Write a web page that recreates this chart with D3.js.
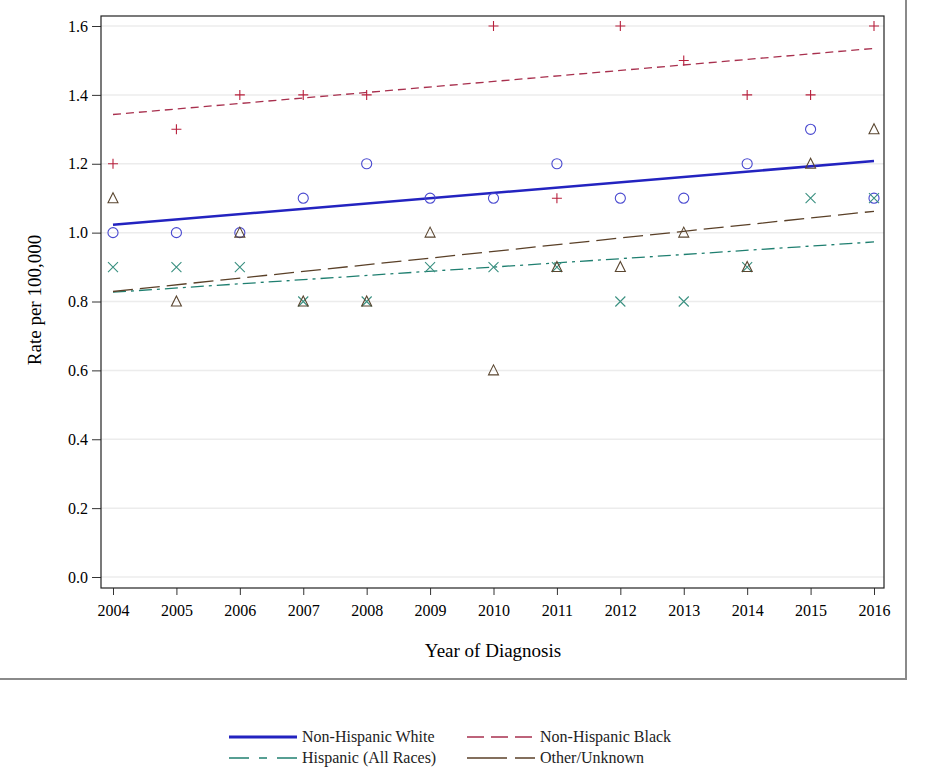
<!DOCTYPE html>
<html>
<head>
<meta charset="utf-8">
<script src="https://cdn.jsdelivr.net/npm/d3@7"></script>
<style>
  body { margin: 0; background: #fff; }
  svg text { font-family: "Liberation Serif", "DejaVu Serif", serif !important; }
</style>
</head>
<body>
<div id="chart"></div>
<script>
const years = [2004, 2005, 2006, 2007, 2008, 2009, 2010, 2011, 2012, 2013, 2014, 2015, 2016];
const yTicks = [0.0, 0.2, 0.4, 0.6, 0.8, 1.0, 1.2, 1.4, 1.6];

// observed rates (null = not shown)
const white    = [1.0, 1.0, 1.0, 1.1, 1.2, 1.1, 1.1, 1.2, 1.1, 1.1, 1.2, 1.3, 1.1];
const black    = [1.2, 1.3, 1.4, 1.4, 1.4, null, 1.6, 1.1, 1.6, 1.5, 1.4, 1.4, 1.6];
const hispanic = [0.9, 0.9, 0.9, 0.8, 0.8, 0.9, 0.9, 0.9, 0.8, 0.8, 0.9, 1.1, 1.1];
const other    = [1.1, 0.8, 1.0, 0.8, 0.8, 1.0, 0.6, 0.9, 0.9, 1.0, 0.9, 1.2, 1.3];

// fitted trend lines, value at 2004 and at 2016
const whiteTrend    = [1.023, 1.208];
const blackTrend    = [1.343, 1.535];
const hispanicTrend = [0.827, 0.973];
const otherTrend    = [0.829, 1.062];

const width = 925, height = 771;
const plot = {left: 101, right: 884, top: 16, bottom: 588};

const svg = d3.select("#chart").append("svg")
  .attr("width", width)
  .attr("height", height);

const x = d3.scaleLinear().domain([2004, 2016]).range([113, 874]);
const y = d3.scaleLinear().domain([0, 1.6]).range([577, 26]);

// outer border (right and bottom only)
svg.append("line")
  .attr("x1", 906).attr("x2", 906).attr("y1", 0).attr("y2", 679)
  .attr("stroke", "#8a8a8a").attr("stroke-width", 2);
svg.append("line")
  .attr("x1", 0).attr("x2", 907).attr("y1", 679).attr("y2", 679)
  .attr("stroke", "#8a8a8a").attr("stroke-width", 2);

// grid lines
svg.append("g")
  .selectAll("line")
  .data(yTicks)
  .join("line")
  .attr("x1", plot.left).attr("x2", plot.right)
  .attr("y1", d => y(d)).attr("y2", d => y(d))
  .attr("stroke", "#ececec")
  .attr("stroke-width", 1.5);

// axes
const yAxis = d3.axisLeft(y).tickValues(yTicks).tickFormat(d3.format(".1f")).tickSize(9).tickPadding(4);
const xAxis = d3.axisBottom(x).tickValues(years).tickFormat(d3.format("d")).tickSize(7).tickPadding(10);

const gy = svg.append("g")
  .attr("transform", `translate(${plot.left},0)`)
  .call(yAxis);
const gx = svg.append("g")
  .attr("transform", `translate(0,${plot.bottom})`)
  .call(xAxis);

[gx, gy].forEach(g => {
  g.attr("font-family", null).attr("font-size", null);
  g.select(".domain").remove();
  g.selectAll(".tick line").attr("stroke", "#333");
  g.selectAll(".tick text")
    .attr("fill", "#000")
    .attr("font-size", 16);
});

// frame
svg.append("rect")
  .attr("x", plot.left).attr("y", plot.top)
  .attr("width", plot.right - plot.left)
  .attr("height", plot.bottom - plot.top)
  .attr("fill", "none")
  .attr("stroke", "#222")
  .attr("stroke-width", 1.2);

// axis titles
svg.append("text")
  .attr("x", 493).attr("y", 657)
  .attr("text-anchor", "middle")
  .attr("font-size", 19)
  .text("Year of Diagnosis");

svg.append("text")
  .attr("transform", "translate(41,300) rotate(-90)")
  .attr("text-anchor", "middle")
  .attr("font-size", 19)
  .text("Rate per 100,000");

// series styles
const series = [
  {name: "Non-Hispanic White", values: white, trend: whiteTrend, line: "#2323c0", mark: "#4a4ad0", dash: null, width: 2.5, symbol: "circle"},
  {name: "Non-Hispanic Black", values: black, trend: blackTrend, line: "#a8304e", mark: "#b8203c", dash: "8,5", width: 1.3, symbol: "plus"},
  {name: "Hispanic (All Races)", values: hispanic, trend: hispanicTrend, line: "#1f7f70", mark: "#3a9080", dash: "13,5,3,5", width: 1.3, symbol: "x"},
  {name: "Other/Unknown", values: other, trend: otherTrend, line: "#5a4028", mark: "#5a4630", dash: "20,7", width: 1.3, symbol: "triangle"}
];

const trendLine = d3.line()
  .x(d => x(d[0]))
  .y(d => y(d[1]));

series.forEach(s => {
  svg.append("path")
    .datum([[2004, s.trend[0]], [2016, s.trend[1]]])
    .attr("fill", "none")
    .attr("stroke", s.line)
    .attr("stroke-width", s.width)
    .attr("stroke-dasharray", s.dash)
    .attr("d", trendLine);
});

function markerPath(symbol) {
  if (symbol === "plus") return "M-5,0H5M0,-5V5";
  if (symbol === "x") return "M-5,-5L5,5M-5,5L5,-5";
  if (symbol === "triangle") return "M0,-5.5L5,4.5H-5Z";
  return d3.symbol(d3.symbolCircle, 80)();
}

series.forEach(s => {
  const pts = years.map((yr, i) => ({year: yr, value: s.values[i]})).filter(d => d.value != null);
  svg.append("g")
    .selectAll("path")
    .data(pts)
    .join("path")
    .attr("transform", d => `translate(${x(d.year)},${y(d.value)})`)
    .attr("d", markerPath(s.symbol))
    .attr("fill", "none")
    .attr("stroke", s.mark)
    .attr("stroke-width", 1.1);
});

// legend
const legend = svg.append("g");
const legendPos = [
  {x: 229, y: 737}, {x: 467, y: 737},
  {x: 229, y: 758}, {x: 467, y: 758}
];
series.forEach((s, i) => {
  const p = legendPos[i];
  legend.append("line")
    .attr("x1", p.x).attr("x2", p.x + 68)
    .attr("y1", p.y).attr("y2", p.y)
    .attr("stroke", s.line)
    .attr("stroke-width", s.symbol === "circle" ? 3 : 2.2)
    .attr("stroke-dasharray", s.dash ? (s.symbol === "plus" ? "17,7" : s.symbol === "x" ? "20,10,8,10" : "40,8") : null)
    .attr("opacity", s.symbol === "circle" ? 1 : 0.75);
  legend.append("text")
    .attr("x", p.x + 73).attr("y", p.y + 5)
    .attr("font-size", 16)
    .attr("fill", "#222")
    .text(s.name);
});
</script>
</body>
</html>
